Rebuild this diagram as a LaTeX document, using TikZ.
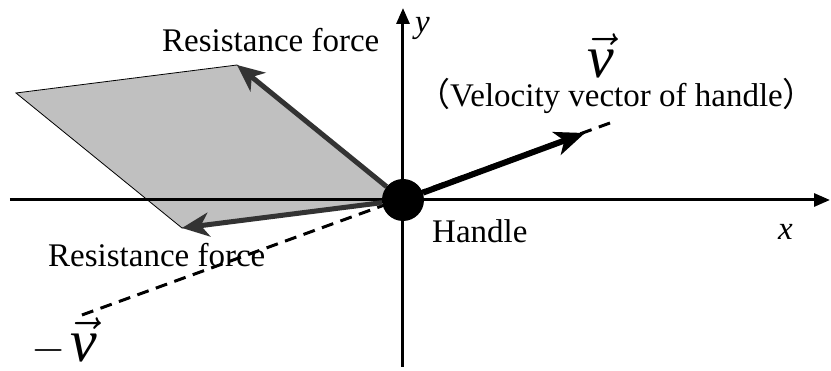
\RequirePackage{fix-cm}
\documentclass[tikz,border=0pt]{standalone}
\usepackage{fontspec}
\setmainfont{Liberation Serif}
\newfontfamily\cjk{Noto Sans CJK JP}
\usetikzlibrary{arrows.meta,calc,positioning}
\definecolor{forcegray}{HTML}{333333}
\definecolor{areagray}{HTML}{C0C0C0}

\begin{document}
\begin{tikzpicture}[x=1pt,y=1pt,
  axis/.style={line width=3pt,-{Triangle[length=16pt,width=13pt]}},
  force/.style={line width=5pt,draw=forcegray,-{Stealth[length=27pt,width=24pt,inset=8pt]}},
  lbl/.style={font=\fontsize{33}{39}\selectfont,inner sep=0pt},
  big/.style={font=\fontsize{60}{70}\selectfont,inner sep=0pt}]
\useasboundingbox (-403,-171) rectangle (428,200);

% Points of the diagram
\coordinate (O) at (0,0);
\coordinate (F1) at (-166,135);
\coordinate (F2) at (-221,-28);
\coordinate (V) at (182,67);
\coordinate (Vend) at (207,77);
\coordinate (Mend) at (-321,-115);
\coordinate (xl) at (-393,0);
\coordinate (xr) at (427,0);
\coordinate (yb) at (0,-167);
\coordinate (yt) at (0,192);

% Parallelogram of the two resistance forces
\draw[fill=areagray,line width=0.8pt] (O) -- (F1) -- ($(F1)+(F2)$) -- (F2) -- cycle;

% Axes
\draw[axis] (xl) -- (xr);
\draw[axis] (yb) -- (yt);

% Line of motion (dashed)
\draw[line width=3pt,dash pattern=on 12pt off 7.64pt] (Mend) -- (Vend);

% Handle
\node[circle,fill=black,minimum size=42pt,inner sep=0pt] (H) at (O) {};

% Forces and velocity
\draw[force] (H) -- (F1);
\draw[force] (H) -- (F2);
\draw[line width=6pt,-{Stealth[length=30pt,width=24pt,inset=8pt]}] (H) -- (V);

% Labels
\node[lbl,anchor=base west] (rf1) at (-241,148) {Resistance force};
\node[lbl,anchor=base west] (rf2) at (-355,-67) {Resistance force};
\node[lbl,anchor=base west] (hl) at (29,-43) {Handle};
\node[lbl,anchor=base west] (xlab) at (375,-40) {\textit{x}};
\node[lbl,anchor=base west] (ylab) at (12,167) {\textit{y}};
\node[lbl,anchor=base west] (vel) at (14,93) {{\cjk （}\rmfamily Velocity vector of handle{\cjk ）}};
\node[big,anchor=base west] (vlab) at (184,122) {$\vec{\textit{v}}$};
\node[lbl,anchor=base west] (mvlab) at (-372,-162) {{\fontsize{44}{50}\selectfont$-$}\,{\fontsize{60}{70}\selectfont$\vec{\textit{v}}$}};
\end{tikzpicture}
\end{document}
